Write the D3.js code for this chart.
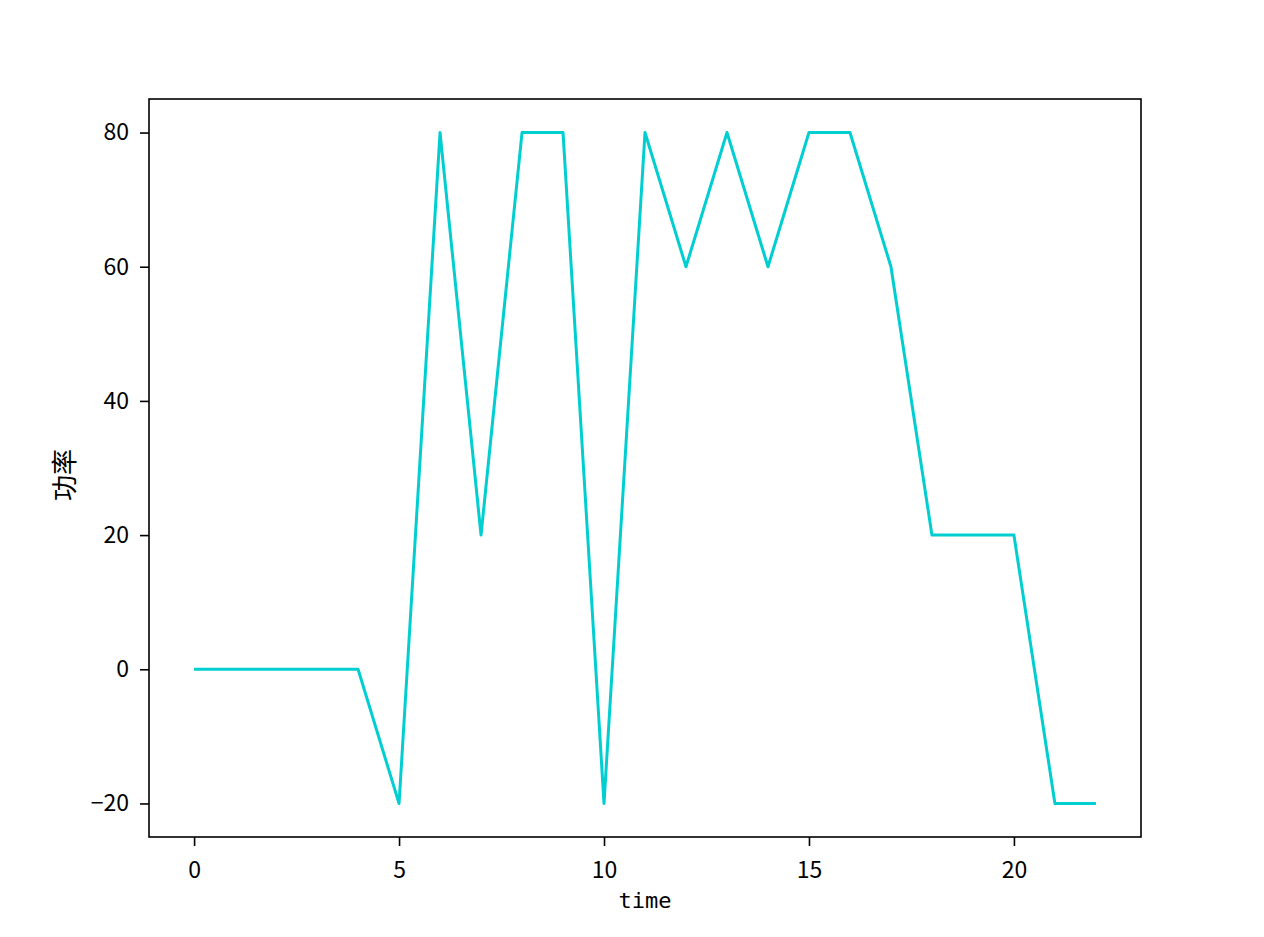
<!DOCTYPE html>
<html>
<head>
<meta charset="utf-8">
<script src="https://cdn.jsdelivr.net/npm/d3@7"></script>
<style>
  body { margin: 0; background: #fff; }
  svg text { font-family: "Noto Sans CJK SC", "DejaVu Sans", sans-serif; fill: #000; }
</style>
</head>
<body>
<svg id="chart" width="1264" height="937"></svg>
<script>
const times = d3.range(0, 23);
const power = [0, 0, 0, 0, 0, -20, 80, 20, 80, 80, -20, 80, 60, 80, 60, 80, 80, 60, 20, 20, 20, -20, -20];
const xTicks = [0, 5, 10, 15, 20];
const yTicks = [-20, 0, 20, 40, 60, 80];

const svg = d3.select("#chart");
const plotL = 149, plotR = 1141, plotT = 99, plotB = 837;

const x = d3.scaleLinear().domain([-1.1, 23.1]).range([plotL, plotR]);
const y = d3.scaleLinear().domain([-25, 85]).range([plotB, plotT]);

const line = d3.line()
  .x((d, i) => x(times[i]))
  .y(d => y(d));

svg.append("path")
  .datum(power)
  .attr("fill", "none")
  .attr("stroke", "#00CED1")
  .attr("stroke-width", 3)
  .attr("stroke-linejoin", "round")
  .attr("d", line);

const xAxis = svg.append("g")
  .attr("transform", `translate(0,${plotB})`)
  .call(d3.axisBottom(x).tickValues(xTicks).tickSize(9).tickPadding(16));
const yAxis = svg.append("g")
  .attr("transform", `translate(${plotL},0)`)
  .call(d3.axisLeft(y).tickValues(yTicks).tickSize(9).tickPadding(11)
    .tickFormat(d => d < 0 ? "\u2212" + Math.abs(d) : d));

[xAxis, yAxis].forEach(g => {
  g.select(".domain").remove();
  g.selectAll(".tick line").attr("stroke", "#000").attr("stroke-width", 1.6);
  g.selectAll(".tick text").attr("font-size", 23);
});
xAxis.selectAll(".tick text").attr("dy", 0).attr("y", 41);

svg.append("rect")
  .attr("x", plotL).attr("y", plotT)
  .attr("width", plotR - plotL).attr("height", plotB - plotT)
  .attr("fill", "none").attr("stroke", "#000").attr("stroke-width", 1.6);

svg.append("text")
  .attr("x", (plotL + plotR) / 2).attr("y", 908)
  .attr("text-anchor", "middle").attr("font-size", 22)
  .style("font-family", "'DejaVu Sans Mono', monospace")
  .text("time");

svg.append("text")
  .attr("transform", `translate(74,${(plotT + plotB) / 2 + 7}) rotate(-90)`)
  .attr("text-anchor", "middle").attr("font-size", 26)
  .text("功率");
</script>
</body>
</html>
